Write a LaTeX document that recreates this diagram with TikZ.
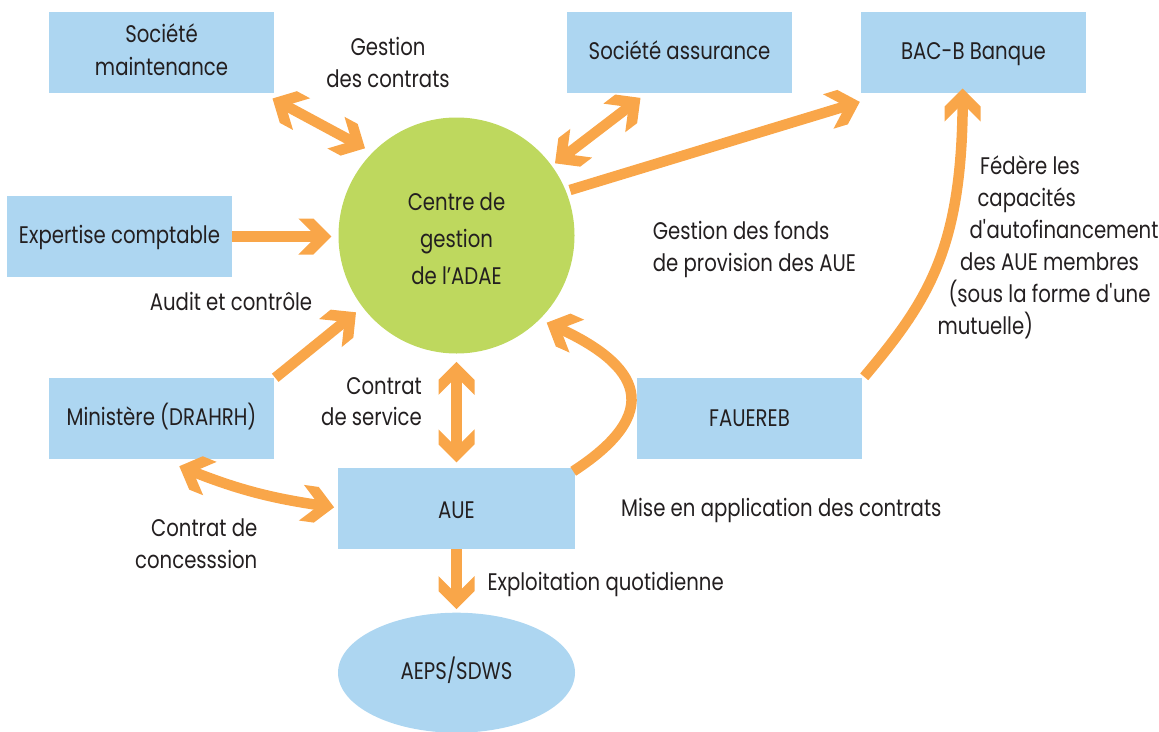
\documentclass[tikz,border=0pt]{standalone}
\usepackage{fontspec}
\setmainfont{Poppins}[FakeStretch=0.82]
\usetikzlibrary{arrows.meta,calc,shapes.geometric}
\definecolor{bluebox}{RGB}{173,214,241}
\definecolor{greenc}{RGB}{190,216,94}
\definecolor{orn}{RGB}{249,166,73}
\definecolor{txt}{RGB}{35,31,32}
\newcommand\fs{\fontsize{24}{32.5}\selectfont}
\newcommand\mlc[1]{\begin{tabular}[t]{@{}c@{}}#1\end{tabular}}
\newcommand\mll[1]{\begin{tabular}[t]{@{}l@{}}#1\end{tabular}}
\newcommand\mlr[1]{\begin{tabular}[t]{@{}r@{}}#1\end{tabular}}
\pgfdeclarearrow{
  name = Chev,
  setup code = {
    \pgfarrowssettipend{0pt}
    \pgfarrowssetlineend{-8pt}
    \pgfarrowssetbackend{-33pt}
  },
  drawing code = {
    \pgfpathmoveto{\pgfqpoint{0pt}{0pt}}
    \pgfpathlineto{\pgfqpoint{-18pt}{18pt}}
    \pgfpathlineto{\pgfqpoint{-33pt}{18pt}}
    \pgfpathlineto{\pgfqpoint{-15pt}{0pt}}
    \pgfpathlineto{\pgfqpoint{-33pt}{-18pt}}
    \pgfpathlineto{\pgfqpoint{-18pt}{-18pt}}
    \pgfpathclose
    \pgfusepathqfill
  }
}
\tikzset{
  box/.style={rectangle, fill=bluebox, minimum width=225pt, minimum height=81pt, inner sep=0pt, text=txt, font=\fs},
  lab/.style={inner sep=0pt, text=txt, font=\fs},
  arr/.style={draw=orn, line width=10.5pt, -{Chev}},
  darr/.style={draw=orn, line width=10.5pt, {Chev}-{Chev}},
}
\begin{document}
\begin{tikzpicture}[x=1pt,y=1pt]
\useasboundingbox (0,0) rectangle (1159,-731);
% shapes
\node[circle, fill=greenc, minimum size=236pt, inner sep=0pt, text=txt,
      font={\fontsize{24}{37}\selectfont}, text depth=75.5pt] (centre) at (456.5,-235.5)
      {\mlc{Centre de\\gestion\\de l’ADAE}};
\node[box] (maint) at (161.5,-52.5) {\mlc{Société\\maintenance}};
\node[box] (expert) at (119.5,-236.5) {\mlc{Expertise comptable}};
\node[box] (assur) at (679.5,-52.5) {\mlc{Société assurance}};
\node[box] (bac) at (973.5,-52.5) {\mlc{BAC-B Banque}};
\node[box] (minist) at (161.5,-418.5) {\mlc{Ministère (DRAHRH)}};
\node[box, minimum width=237pt, text depth=3pt] (aue) at (456.5,-508.3) {\mlc{AUE}};
\node[box, text depth=6.3pt] (faue) at (749.5,-418.5) {\mlc{FAUEREB}};
\node[ellipse, fill=bluebox, minimum width=237pt, minimum height=120pt, inner sep=0pt, text=txt, font=\fs] (aeps) at (456.5,-672.7) {\mlc{AEPS/SDWS}};
% labels
\node[lab, anchor=base] (gdc) at (388,-55) {\mlc{Gestion\\des contrats}};
\node[lab, anchor=base] (audit) at (231,-310.7) {\mlc{Audit et contrôle}};
\node[lab, anchor=base east, font={\fontsize{24}{31.7}\selectfont}] (cds) at (422,-394) {\mlr{Contrat\\de service}};
\node[lab, anchor=base east, font={\fontsize{24}{31.6}\selectfont}] (cdc) at (257.5,-536.7) {\mlr{Contrat de\\concesssion}};
\node[lab, anchor=base west] (expl) at (487.3,-590) {\mll{Exploitation quotidienne}};
\node[lab, anchor=base west] (mise) at (621,-516.7) {\mll{Mise en application des contrats}};
\node[lab, anchor=base west] (gdf) at (652.7,-239.3) {\mll{Gestion des fonds\\de provision des AUE}};
\node[lab, anchor=base west, font={\fontsize{24}{32.1}\selectfont}] (fed) at (937.3,-174)
  {\mll{\hspace*{42.7pt}Fédère les\\\hspace*{40pt}capacités\\\hspace*{32pt}d\textquotesingle autofinancement\\\hspace*{22.7pt}des AUE membres\\\hspace*{11pt}(sous la forme d\textquotesingle une\\mutuelle)}};
% connector end points
\coordinate (a1s) at ($(maint.south east)+(-1.7,-5.3)$);
\coordinate (a1e) at ($(centre)+(-91.5,87.2)$);
\coordinate (a2s) at ($(assur.south west)+(73.7,-4.7)$);
\coordinate (a2e) at ($(centre)+(98.5,72.2)$);
\coordinate (a3s) at ($(centre)+(113.5,45.5)$);
\coordinate (a3e) at ($(bac.south west)+(-1,-8.7)$);
\coordinate (a4e) at ($(centre.west)+(-7,0)$);
\coordinate (a5s) at ($(minist.north east)+(1,0)$);
\coordinate (a5e) at ($(centre)+(-100.5,-76.8)$);
\coordinate (a6s) at ($(centre.south)+(0,-8.2)$);
\coordinate (a6e) at ($(aue.north)+(0,5.3)$);
\coordinate (a7e) at ($(aeps.north)+(0,3.4)$);
\coordinate (a8s) at ($(minist.south)+(17.8,-7)$);
\coordinate (a8e) at ($(aue.west)+(-3.7,1)$);
\coordinate (a9s) at ($(aue.north east)+(-2,-3.7)$);
\coordinate (a9e) at ($(centre)+(90.2,-87.2)$);
\coordinate (a10s) at ($(faue.north east)+(2,1)$);
\coordinate (a10e) at ($(bac.south)+(-10.8,4.7)$);
% connectors
\draw[darr] (a1s) -- (a1e);
\draw[darr] (a2s) -- (a2e);
\draw[arr] (a3s) -- (a3e);
\draw[arr] (expert.east) -- (expert.east -| a4e);
\draw[arr] (a5s) -- (a5e);
\draw[darr] (a6s) -- (a6e);
\draw[arr] (aue.south) -- (a7e);
\draw[darr] (a8s) to[out=-22,in=172] (a8e);
\draw[arr] (a9s) .. controls +(33:120) and +(-24:90) .. (a9e);
\draw[arr] (a10s) .. controls +(50:100) and +(-90:160) .. (a10e);
\end{tikzpicture}
\end{document}
